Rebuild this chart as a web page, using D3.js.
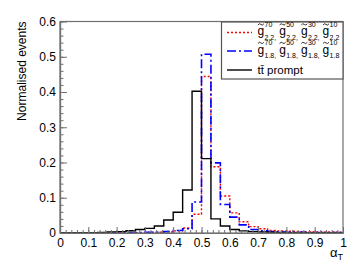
<!DOCTYPE html>
<html>
<head>
<meta charset="utf-8">
<script src="https://cdn.jsdelivr.net/npm/d3@7"></script>
<style>
    body { margin: 0; background: #fff; }
    svg { display: block; font-family: "Liberation Sans", Arial, sans-serif; }
</style>
</head>
<body>
<div id="chart"></div>
<script>
// 30 bins of alpha_T between 0 and 1
const nBins = 30;
const gluino22 = [0.0005, 0.0005, 0.0005, 0.0006, 0.0007, 0.0008, 0.001, 0.001, 0.0012, 0.0015,
    0.002, 0.003, 0.006, 0.014, 0.053, 0.444, 0.188, 0.105, 0.057, 0.032,
    0.018, 0.012, 0.007, 0.006, 0.005, 0.004, 0.004, 0.003, 0.003, 0.002];
const gluino18 = [0.0005, 0.0005, 0.0005, 0.0006, 0.0007, 0.0008, 0.001, 0.0012, 0.0015, 0.002,
    0.002, 0.004, 0.007, 0.012, 0.088, 0.507, 0.199, 0.081, 0.045, 0.023,
    0.01, 0.006, 0.004, 0.003, 0.002, 0.002, 0.001, 0.001, 0.001, 0.001];
const ttPrompt = [0.0008, 0.0008, 0.001, 0.0012, 0.0015, 0.003, 0.004, 0.0065, 0.01, 0.013,
    0.02, 0.037, 0.059, 0.122, 0.402, 0.211, 0.04, 0.02, 0.01, 0.006,
    0.004, 0.003, 0.002, 0.0015, 0.001, 0.001, 0.001, 0.0008, 0.0008, 0.0008];

const xTicks = [0, 0.1, 0.2, 0.3, 0.4, 0.5, 0.6, 0.7, 0.8, 0.9, 1];
const xTickLabels = ["0", "0.1", "0.2", "0.3", "0.4", "0.5", "0.6", "0.7", "0.8", "0.9", "1"];
const yTicks = [0, 0.1, 0.2, 0.3, 0.4, 0.5, 0.6];
const yTickLabels = ["0", "0.1", "0.2", "0.3", "0.4", "0.5", "0.6"];
const masses = ["70", "50", "30", "10"];
const lifetimes = ["2.2", "1.8"];

const width = 355, height = 265;
const frame = { left: 60, right: 343, top: 21.5, bottom: 233 };
const axisColor = "#707070";

const svg = d3.select("#chart").append("svg")
    .attr("width", width)
    .attr("height", height);

const x = d3.scaleLinear().domain([0, 1]).range([frame.left, frame.right]);
const y = d3.scaleLinear().domain([0, 0.6]).range([frame.bottom, frame.top]);

// step outline of a histogram
function histPath(values) {
    let pts = values.map((v, i) => [i / nBins, v]);
    pts.push([1, values[values.length - 1]]);
    return d3.line()
        .x(d => x(d[0]))
        .y(d => y(d[1]))
        .curve(d3.curveStepAfter)(pts);
}

const series = [
    { values: gluino22, color: "#ff0000", dash: "2,2", width: 1.4 },
    { values: gluino18, color: "#0000ff", dash: "9,3,2,3", width: 1.6 },
    { values: ttPrompt, color: "#000000", dash: null, width: 1.4 },
];

svg.append("clipPath").attr("id", "clip")
    .append("rect")
    .attr("x", frame.left).attr("y", frame.top)
    .attr("width", frame.right - frame.left)
    .attr("height", frame.bottom - frame.top);

const plot = svg.append("g").attr("clip-path", "url(#clip)");
series.forEach(function (s) {
    plot.append("path")
        .attr("d", histPath(s.values))
        .attr("fill", "none")
        .attr("stroke", s.color)
        .attr("stroke-width", s.width)
        .attr("stroke-dasharray", s.dash);
});

// frame
svg.append("rect")
    .attr("x", frame.left).attr("y", frame.top)
    .attr("width", frame.right - frame.left)
    .attr("height", frame.bottom - frame.top)
    .attr("fill", "none")
    .attr("stroke", axisColor)
    .attr("stroke-width", 1.2);

// x axis: major 0.1, minor 0.02
const xAxis = d3.axisBottom(x).tickValues(xTicks).tickFormat((d, i) => xTickLabels[i])
    .tickSizeInner(-6).tickSizeOuter(0).tickPadding(6);
const xMinor = d3.axisBottom(x).tickValues(d3.range(0, 1.0001, 0.02)).tickFormat("")
    .tickSizeInner(-3).tickSizeOuter(0);

svg.append("g").attr("transform", `translate(0,${frame.bottom})`).call(xMinor);
const gx = svg.append("g").attr("transform", `translate(0,${frame.bottom})`).call(xAxis);

const yAxis = d3.axisLeft(y).tickValues(yTicks).tickFormat((d, i) => yTickLabels[i])
    .tickSizeInner(-7).tickSizeOuter(0).tickPadding(4);
const yMinor = d3.axisLeft(y).tickValues(d3.range(0, 0.6001, 0.02)).tickFormat("")
    .tickSizeInner(-3.5).tickSizeOuter(0);

svg.append("g").attr("transform", `translate(${frame.left},0)`).call(yMinor);
const gy = svg.append("g").attr("transform", `translate(${frame.left},0)`).call(yAxis);

svg.selectAll(".domain").attr("stroke", axisColor).attr("stroke-width", 1.2);
svg.selectAll(".tick line").attr("stroke", axisColor);
svg.selectAll(".tick text")
    .attr("font-family", '"Liberation Sans", Arial, sans-serif')
    .attr("font-size", 12)
    .attr("fill", "#000");
gx.selectAll(".tick text").attr("dy", "0.71em").attr("y", 5);
gy.selectAll(".tick text").attr("x", -4);

// axis titles
svg.append("text")
    .attr("transform", `translate(26,${frame.top}) rotate(-90)`)
    .attr("text-anchor", "end")
    .attr("font-size", 12)
    .text("Normalised events");

const xt = svg.append("text")
    .attr("x", frame.right)
    .attr("y", 257)
    .attr("text-anchor", "end")
    .attr("font-size", 13);
xt.append("tspan").text("α");
xt.append("tspan").attr("font-size", 9).attr("dy", 3).text("T");

// legend
const leg = svg.append("g");
leg.append("rect")
    .attr("x", 221.5).attr("y", 22)
    .attr("width", frame.right - 221.5).attr("height", 57)
    .attr("fill", "#fff")
    .attr("stroke", "#555")
    .attr("stroke-width", 1.2);

const legRows = [
    { y: 32.5, s: series[0] },
    { y: 51, s: series[1] },
    { y: 70, s: series[2] },
];
legRows.forEach(function (r) {
    leg.append("line")
        .attr("x1", 227).attr("x2", 252)
        .attr("y1", r.y).attr("y2", r.y)
        .attr("stroke", r.s.color)
        .attr("stroke-width", r.s.width)
        .attr("stroke-dasharray", r.s.dash);
});

// tilde drawn as a small wave above the g
function tilde(x0, y0) {
    return `M${x0},${y0 + 1} q1.5,-2.2 3,-0.6 t3,-0.6`;
}

lifetimes.forEach(function (lt, row) {
    const base = row === 0 ? 35 : 53.5;
    masses.forEach(function (m, k) {
        const gx0 = 257.5 + k * 21.7;
        leg.append("text").attr("x", gx0).attr("y", base).attr("font-size", 12).text("g");
        leg.append("path")
            .attr("d", tilde(gx0 + 0.4, base - 11))
            .attr("fill", "none")
            .attr("stroke", "#000")
            .attr("stroke-width", 0.8);
        leg.append("text").attr("x", gx0 + 7).attr("y", base - 8.5).attr("font-size", 7).text(m);
        leg.append("text").attr("x", gx0 + 7).attr("y", base + 4.5).attr("font-size", 7)
            .text(k < 3 ? lt + "," : lt);
    });
});

leg.append("text")
    .attr("x", 257.5).attr("y", 74)
    .attr("font-size", 11.5)
    .text("tt\u0304 prompt");
</script>
</body>
</html>
